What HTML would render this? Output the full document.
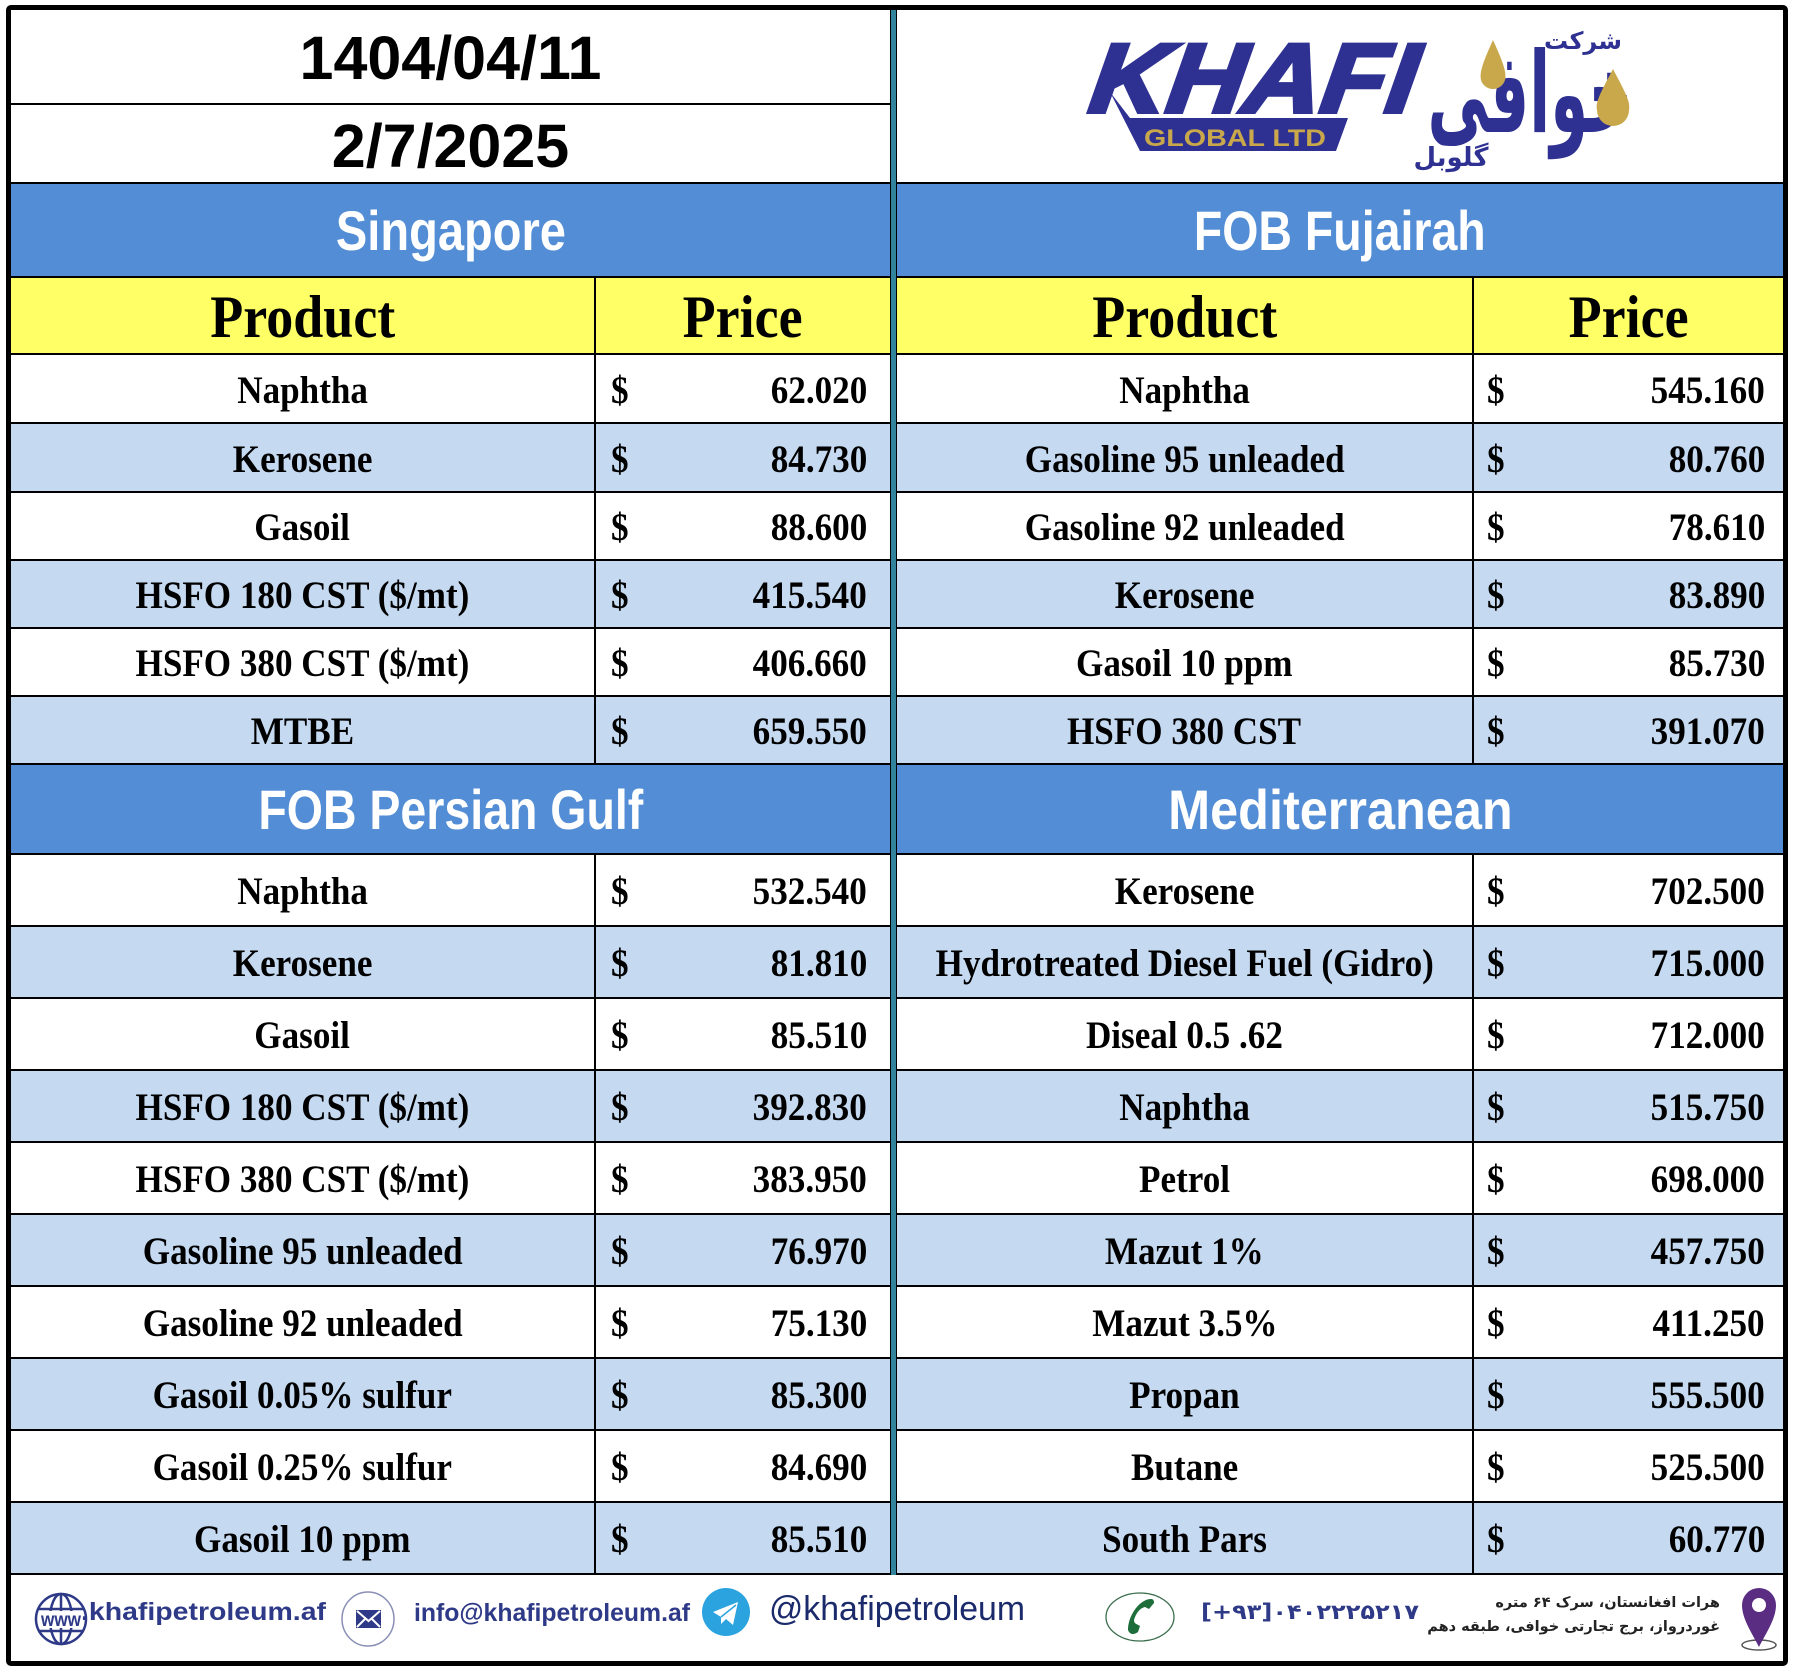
<!DOCTYPE html>
<html><head><meta charset="utf-8">
<style>
html,body{margin:0;padding:0;background:#fff;}
#c{position:relative;width:1794px;height:1673px;overflow:hidden;background:#fff;}
.frame{position:absolute;left:6px;top:5px;width:1782px;height:1661px;border:5px solid #000;border-radius:5px;box-sizing:border-box;z-index:5;pointer-events:none;}
.row{position:absolute;display:flex;border-top:2px solid #000;box-sizing:border-box;font-family:"Liberation Serif",serif;font-weight:bold;font-size:39px;color:#000;}
.L{left:11px;width:879px;}
.R{left:897px;width:886px;}
.L .p{width:583px;}
.R .p{width:575px;}
.p{display:flex;align-items:center;justify-content:center;padding-top:3px;box-sizing:border-box;}
.p span{display:inline-block;transform:scaleX(.9);white-space:nowrap;}
.pr{flex:1;border-left:2px solid #000;display:flex;align-items:center;justify-content:space-between;padding-top:3px;box-sizing:border-box;}
.L .pr{padding-left:15px;padding-right:23px;}
.R .pr{padding-left:13px;padding-right:18px;}
.d{display:inline-block;transform:scaleX(.9);transform-origin:left center;}
.n{display:inline-block;transform:scaleX(.9);transform-origin:right center;}
.w{background:#fff;}
.b{background:#C5D9F1;}
.y{background:#FFFF66;font-size:60px;}
.y .pr{justify-content:center;padding-left:0 !important;padding-right:0 !important;}
.y .p span,.y .pr span{transform:scaleX(.9);display:inline-block;}
.blue{position:absolute;background:#538DD5;border-top:2px solid #000;box-sizing:border-box;display:flex;align-items:center;justify-content:center;color:#fff;font-family:"Liberation Sans",sans-serif;font-weight:bold;font-size:56px;}
.blue span{display:inline-block;white-space:nowrap;}
.date{position:absolute;left:11px;width:879px;display:flex;align-items:center;justify-content:center;font-family:"Liberation Sans",sans-serif;font-weight:bold;font-size:61px;color:#000;box-sizing:border-box;}
.mid{position:absolute;left:890px;top:10px;width:7px;height:1565px;background:#31849B;border-left:1px solid #000;border-right:1px solid #000;box-sizing:border-box;z-index:3;}
.addr{position:absolute;right:76px;direction:rtl;text-align:right;font-family:"DejaVu Sans",sans-serif;font-weight:bold;font-size:14.5px;color:#222;white-space:nowrap;}
</style></head>
<body><div id="c">

<!-- top dates -->
<div class="date" style="top:10px;height:93px;padding-top:2px;">1404/04/11</div>
<div style="position:absolute;left:11px;top:103px;width:879px;height:2px;background:#000;"></div>
<div class="date" style="top:105px;height:77px;padding-top:4px;">2/7/2025</div>

<!-- logo -->
<svg style="position:absolute;left:1080px;top:20px;" width="580" height="170" viewBox="0 0 580 170">
  <polygon points="30,72 50,98 268,98 256,131 60,131" fill="#2E3192"/>
  <text x="8" y="92" font-family="Liberation Sans, sans-serif" font-weight="bold" font-style="italic" font-size="98" fill="#2E3192" stroke="#2E3192" stroke-width="4" textLength="326" lengthAdjust="spacingAndGlyphs" transform="skewX(-8) translate(12,0)">KHAFI</text>
  <text x="64" y="126" font-family="Liberation Sans, sans-serif" font-weight="bold" font-size="24" fill="#C9A84C" textLength="182" lengthAdjust="spacingAndGlyphs">GLOBAL LTD</text>
  <text x="450" y="112" text-anchor="middle" font-family="DejaVu Sans, sans-serif" font-weight="bold" font-size="112" fill="#2E3192" textLength="205" lengthAdjust="spacingAndGlyphs">خوافی</text>
  <path d="M413 20 C404 40,399 52,401 60 A12.5 12.5 0 0 0 425 60 C427 52,422 40,413 20 Z" fill="#C9A84C"/>
  <path d="M533 49 C522 70,515 82,517 90 A16 16 0 0 0 549 90 C551 82,544 70,533 49 Z" fill="#C9A84C"/>
  <text x="503" y="29" text-anchor="middle" font-family="DejaVu Sans, sans-serif" font-weight="bold" font-size="24" fill="#2E3192">شرکت</text>
  <text x="371" y="146" text-anchor="middle" font-family="DejaVu Sans, sans-serif" font-weight="bold" font-size="26" fill="#2E3192">گلوبل</text>
</svg>

<!-- blue headers section 1 -->
<div class="blue" style="left:11px;width:879px;top:182px;height:95px;"><span style="transform:scaleX(.84)">Singapore</span></div>
<div class="blue" style="left:897px;width:886px;top:182px;height:95px;"><span style="transform:scaleX(.83)">FOB Fujairah</span></div>

<!-- yellow headers -->
<div class="row L y" style="top:276px;height:77px;"><div class="p"><span>Product</span></div><div class="pr"><span>Price</span></div></div>
<div class="row R y" style="top:276px;height:77px;"><div class="p"><span>Product</span></div><div class="pr"><span>Price</span></div></div>

<!-- Singapore rows -->
<div class="row L w" style="top:353px;height:69px;"><div class="p"><span>Naphtha</span></div><div class="pr"><span class="d">$</span><span class="n">62.020</span></div></div>
<div class="row L b" style="top:422px;height:69px;"><div class="p"><span>Kerosene</span></div><div class="pr"><span class="d">$</span><span class="n">84.730</span></div></div>
<div class="row L w" style="top:491px;height:68px;"><div class="p"><span>Gasoil</span></div><div class="pr"><span class="d">$</span><span class="n">88.600</span></div></div>
<div class="row L b" style="top:559px;height:68px;"><div class="p"><span>HSFO 180 CST ($/mt)</span></div><div class="pr"><span class="d">$</span><span class="n">415.540</span></div></div>
<div class="row L w" style="top:627px;height:68px;"><div class="p"><span>HSFO 380 CST ($/mt)</span></div><div class="pr"><span class="d">$</span><span class="n">406.660</span></div></div>
<div class="row L b" style="top:695px;height:68px;"><div class="p"><span>MTBE</span></div><div class="pr"><span class="d">$</span><span class="n">659.550</span></div></div>

<!-- Fujairah rows -->
<div class="row R w" style="top:353px;height:69px;"><div class="p"><span>Naphtha</span></div><div class="pr"><span class="d">$</span><span class="n">545.160</span></div></div>
<div class="row R b" style="top:422px;height:69px;"><div class="p"><span>Gasoline 95 unleaded</span></div><div class="pr"><span class="d">$</span><span class="n">80.760</span></div></div>
<div class="row R w" style="top:491px;height:68px;"><div class="p"><span>Gasoline 92 unleaded</span></div><div class="pr"><span class="d">$</span><span class="n">78.610</span></div></div>
<div class="row R b" style="top:559px;height:68px;"><div class="p"><span>Kerosene</span></div><div class="pr"><span class="d">$</span><span class="n">83.890</span></div></div>
<div class="row R w" style="top:627px;height:68px;"><div class="p"><span>Gasoil 10 ppm</span></div><div class="pr"><span class="d">$</span><span class="n">85.730</span></div></div>
<div class="row R b" style="top:695px;height:68px;"><div class="p"><span>HSFO 380 CST</span></div><div class="pr"><span class="d">$</span><span class="n">391.070</span></div></div>

<!-- blue headers section 2 -->
<div class="blue" style="left:11px;width:879px;top:763px;height:90px;"><span style="transform:scaleX(.83)">FOB Persian Gulf</span></div>
<div class="blue" style="left:897px;width:886px;top:763px;height:90px;"><span style="transform:scaleX(.9)">Mediterranean</span></div>

<!-- Persian Gulf rows -->
<div class="row L w" style="top:853px;height:72px;"><div class="p"><span>Naphtha</span></div><div class="pr"><span class="d">$</span><span class="n">532.540</span></div></div>
<div class="row L b" style="top:925px;height:72px;"><div class="p"><span>Kerosene</span></div><div class="pr"><span class="d">$</span><span class="n">81.810</span></div></div>
<div class="row L w" style="top:997px;height:72px;"><div class="p"><span>Gasoil</span></div><div class="pr"><span class="d">$</span><span class="n">85.510</span></div></div>
<div class="row L b" style="top:1069px;height:72px;"><div class="p"><span>HSFO 180 CST ($/mt)</span></div><div class="pr"><span class="d">$</span><span class="n">392.830</span></div></div>
<div class="row L w" style="top:1141px;height:72px;"><div class="p"><span>HSFO 380 CST ($/mt)</span></div><div class="pr"><span class="d">$</span><span class="n">383.950</span></div></div>
<div class="row L b" style="top:1213px;height:72px;"><div class="p"><span>Gasoline 95 unleaded</span></div><div class="pr"><span class="d">$</span><span class="n">76.970</span></div></div>
<div class="row L w" style="top:1285px;height:72px;"><div class="p"><span>Gasoline 92 unleaded</span></div><div class="pr"><span class="d">$</span><span class="n">75.130</span></div></div>
<div class="row L b" style="top:1357px;height:72px;"><div class="p"><span>Gasoil 0.05% sulfur</span></div><div class="pr"><span class="d">$</span><span class="n">85.300</span></div></div>
<div class="row L w" style="top:1429px;height:72px;"><div class="p"><span>Gasoil 0.25% sulfur</span></div><div class="pr"><span class="d">$</span><span class="n">84.690</span></div></div>
<div class="row L b" style="top:1501px;height:72px;"><div class="p"><span>Gasoil 10 ppm</span></div><div class="pr"><span class="d">$</span><span class="n">85.510</span></div></div>

<!-- Mediterranean rows -->
<div class="row R w" style="top:853px;height:72px;"><div class="p"><span>Kerosene</span></div><div class="pr"><span class="d">$</span><span class="n">702.500</span></div></div>
<div class="row R b" style="top:925px;height:72px;"><div class="p"><span>Hydrotreated Diesel Fuel (Gidro)</span></div><div class="pr"><span class="d">$</span><span class="n">715.000</span></div></div>
<div class="row R w" style="top:997px;height:72px;"><div class="p"><span>Diseal 0.5 .62</span></div><div class="pr"><span class="d">$</span><span class="n">712.000</span></div></div>
<div class="row R b" style="top:1069px;height:72px;"><div class="p"><span>Naphtha</span></div><div class="pr"><span class="d">$</span><span class="n">515.750</span></div></div>
<div class="row R w" style="top:1141px;height:72px;"><div class="p"><span>Petrol</span></div><div class="pr"><span class="d">$</span><span class="n">698.000</span></div></div>
<div class="row R b" style="top:1213px;height:72px;"><div class="p"><span>Mazut 1%</span></div><div class="pr"><span class="d">$</span><span class="n">457.750</span></div></div>
<div class="row R w" style="top:1285px;height:72px;"><div class="p"><span>Mazut 3.5%</span></div><div class="pr"><span class="d">$</span><span class="n">411.250</span></div></div>
<div class="row R b" style="top:1357px;height:72px;"><div class="p"><span>Propan</span></div><div class="pr"><span class="d">$</span><span class="n">555.500</span></div></div>
<div class="row R w" style="top:1429px;height:72px;"><div class="p"><span>Butane</span></div><div class="pr"><span class="d">$</span><span class="n">525.500</span></div></div>
<div class="row R b" style="top:1501px;height:72px;"><div class="p"><span>South Pars</span></div><div class="pr"><span class="d">$</span><span class="n">60.770</span></div></div>

<!-- footer line -->
<div style="position:absolute;left:11px;top:1573px;width:1772px;height:2px;background:#000;"></div>

<!-- middle divider -->
<div class="mid"></div>

<!-- footer -->
<svg style="position:absolute;left:0;top:1575px;" width="1794" height="86" viewBox="0 0 1794 86">
  <!-- globe -->
  <g fill="none" stroke="#2E3A87" stroke-width="2.5">
    <circle cx="61" cy="44" r="25"/>
    <ellipse cx="61" cy="44" rx="11" ry="25"/>
    <line x1="61" y1="19" x2="61" y2="69"/>
    <line x1="38" y1="34" x2="84" y2="34"/>
    <line x1="38" y1="56" x2="84" y2="56"/>
  </g>
  <rect x="40" y="36" width="42" height="17" fill="#fff"/>
  <text x="41" y="51" font-family="Liberation Sans, sans-serif" font-weight="bold" font-size="19" fill="#2E3A87" textLength="40" lengthAdjust="spacingAndGlyphs">www</text>
  <text x="81" y="45" font-family="Liberation Sans, sans-serif" font-weight="bold" font-size="25" fill="#2E3A87" textLength="245" lengthAdjust="spacingAndGlyphs">.khafipetroleum.af</text>
  <!-- envelope -->
  <ellipse cx="368" cy="44" rx="26" ry="27" fill="#fff" stroke="#8A8FB5" stroke-width="1.5"/>
  <rect x="356" y="35" width="25" height="18" fill="#2E3A87"/>
  <path d="M357 36 L368.5 46 L380 36 M357 52 L366 43 M380 52 L371 43" stroke="#fff" stroke-width="2" fill="none"/>
  <text x="414" y="46" font-family="Liberation Sans, sans-serif" font-weight="bold" font-size="25" fill="#2E3A87" textLength="276" lengthAdjust="spacingAndGlyphs">info@khafipetroleum.af</text>
  <!-- telegram -->
  <circle cx="726" cy="37" r="24" fill="#2AA3DF"/>
  <path d="M713 37 L738 27 L733 50 L726 44 L721 49 L721 42 Z" fill="#fff"/>
  <path d="M721 42 L736 30" stroke="#2AA3DF" stroke-width="1.5"/>
  <text x="769" y="45" font-family="Liberation Sans, sans-serif" font-size="34" fill="#1B2A6B" textLength="256" lengthAdjust="spacingAndGlyphs">@khafipetroleum</text>
  <!-- phone -->
  <ellipse cx="1140" cy="42" rx="34" ry="24" fill="#fff" stroke="#3A6E4C" stroke-width="1.3"/>
  <path d="M1151 24 C1140 24,1128 40,1128 55 C1130 60,1134 60,1138 57 L1140 51 C1137 49,1134 49,1134 45 C1136 38,1140 33,1145 32 L1149 34 L1154 28 C1154 25,1153 24,1151 24 Z" fill="#1E6E3C"/>
  <text x="1201" y="44" font-family="DejaVu Sans, sans-serif" font-weight="bold" font-size="21" fill="#2E3A87" textLength="218" lengthAdjust="spacingAndGlyphs">[+۹۳]۰۴۰۲۲۲۵۲۱۷</text>
  <!-- pin -->
  <ellipse cx="1759" cy="70" rx="17" ry="5" fill="none" stroke="#555" stroke-width="1.5"/>
  <path d="M1759 72 C1752 58,1742 44,1742 30 A17 17 0 0 1 1776 30 C1776 44,1766 58,1759 72 Z" fill="#5A2D82"/>
  <circle cx="1759" cy="30" r="7" fill="#fff"/>
</svg>
<div class="addr" style="top:1595px;right:74px;">هرات افغانستان، سرک ۶۴ متره</div>
<div class="addr" style="top:1619px;right:74px;">غوردرواز، برج تجارتی خوافی، طبقه دهم</div>

<div class="frame"></div>
</div></body></html>
